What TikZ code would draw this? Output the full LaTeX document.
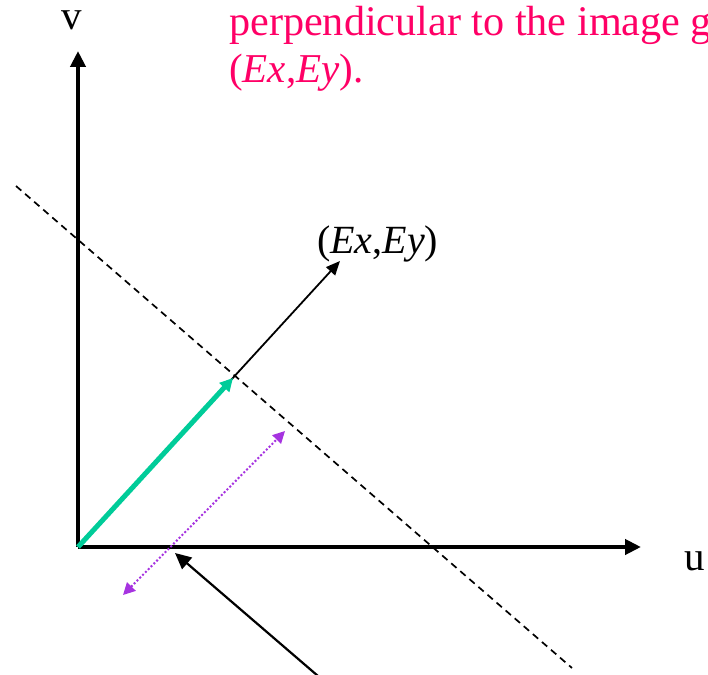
\documentclass[tikz,border=0pt]{standalone}
\usepackage{fontspec}
\setmainfont{Liberation Serif}
\usetikzlibrary{arrows.meta}
\definecolor{gradpink}{HTML}{FF0066}
\definecolor{gradteal}{HTML}{00CC99}
\definecolor{gradpurple}{HTML}{A633E0}

\tikzset{
  axis/.style={line width=4pt,-{Triangle[length=16pt,width=15pt]}},
  bigtext/.style={font=\fontsize{41}{47}\selectfont,inner sep=0pt}
}

\begin{document}
\begin{tikzpicture}[x=1pt,y=-1pt]
  \useasboundingbox (0,0) rectangle (708,674);
  % axes
  \coordinate (O) at (78,547);
  \coordinate (vtip) at (78,51);
  \coordinate (utip) at (641,547);
  \draw[axis] (O) -- (vtip);
  \draw[axis] (O) -- (utip);
  \node[bigtext,anchor=base,text height=19pt] (vlab) at (72,30) {v};
  \node[bigtext,anchor=base] (ulab) at (695,570) {u};
  % edge line
  \coordinate (e1) at (16,186);
  \coordinate (e2) at (572,668);
  \draw[line width=1.7pt,dash pattern=on 7pt off 5pt] (e1) -- (e2);
  % gradient
  \coordinate (G) at (340,261);
  \coordinate (T) at (233,378);
  \draw[line width=1.8pt,-{Triangle[length=14pt,width=12pt]}] (O) -- (G);
  \draw[gradteal,line width=5pt,-{Triangle[length=13pt,width=13pt]}] (O) -- (T);
  \node[bigtext,font=\fontsize{40}{46}\selectfont,anchor=base west] (glab) at (317,253) {(\textit{Ex},\textit{Ey})};
  % distance
  \coordinate (d1) at (123,595);
  \coordinate (d2) at (285,431);
  \draw[gradpurple,line width=2pt,dash pattern=on 2pt off 2pt,
        {Triangle[length=12pt,width=12pt]}-{Triangle[length=12pt,width=12pt]}] (d1) -- (d2);
  % pointer
  \coordinate (p1) at (318,676);
  \coordinate (p2) at (175,553);
  \draw[line width=2.2pt,-{Triangle[length=16pt,width=15pt]}] (p1) -- (p2);
  % caption
  \node[bigtext,font=\fontsize{42.2}{47}\selectfont,text=gradpink,anchor=base west] (cap1) at (229,36) {perpendicular to the image g};
  \node[bigtext,text=gradpink,anchor=base west] (cap2) at (229,83) {(\textit{Ex},\textit{Ey}).};
\end{tikzpicture}
\end{document}
